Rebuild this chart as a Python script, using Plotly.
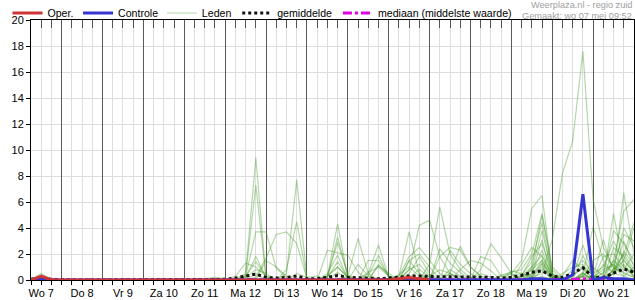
import pandas as pd
import plotly.graph_objects as go

# ---------------- data (6-hourly, Wo 7 06:00 .. Do 22 00:00) ----------------
start_time = "2025-05-07 06:00"
n_steps = 60
day_labels = ["Wo 7", "Do 8", "Vr 9", "Za 10", "Zo 11", "Ma 12", "Di 13", "Wo 14",
              "Do 15", "Vr 16", "Za 17", "Zo 18", "Ma 19", "Di 20", "Wo 21"]
y_ticks = [0, 2, 4, 6, 8, 10, 12, 14, 16, 18, 20]

Z4 = [0, 0, 0, 0]
# blocks: Wo7(06,12,18) Do8 Vr9 Za10 Zo11 Ma12 Di13 Wo14 Do15 Vr16 Za17 Zo18 Ma19 Di20 Wo21 Do22(00)
def row(w7, do8, vr9, za10, zo11, ma12, di13, wo14, do15, vr16, za17, zo18, ma19, di20, wo21, do22):
    return w7 + do8 + vr9 + za10 + zo11 + ma12 + di13 + wo14 + do15 + vr16 + za17 + zo18 + ma19 + di20 + wo21 + do22

oper = row([0, 0.3, 0], Z4, Z4, Z4, Z4, Z4, Z4, Z4, Z4, [0, 0.1, 0.2, 0.1],
           [0, None, None, None], [None]*4, [None]*4, [None]*4, [None]*4, [None])
controle = row([0, 0.1, 0], Z4, Z4, Z4, Z4, Z4, Z4, Z4, Z4, Z4, Z4, Z4,
               [0, 0, 0.1, 0.1], [0, 0, 0.4, 6.6], [0, 0.2, 0.1, 0.1], [0])
gemiddelde = row([0.05, 0.2, 0.05], Z4, Z4, Z4, [0, 0, 0.02, 0.05],
                 [0.05, 0.15, 0.3, 0.45], [0.2, 0.15, 0.2, 0.3], [0.1, 0.1, 0.2, 0.35],
                 [0.2, 0.15, 0.15, 0.1], [0.15, 0.25, 0.3, 0.3], [0.25, 0.25, 0.25, 0.25],
                 [0.2, 0.2, 0.2, 0.15], [0.2, 0.35, 0.6, 0.7], [0.3, 0.2, 0.5, 0.95],
                 [0.2, 0.2, 0.5, 0.85], [0.6])
mediaan = row([0, 0, 0], Z4, Z4, Z4, Z4, Z4, Z4, Z4, Z4, Z4, Z4, Z4, Z4,
              [0, 0, 0.03, 0.1], [0, 0, 0, 0], [0])

leden = [
    row([0, 0.1, 0], Z4, Z4, Z4, Z4, [0, 0.1, 0.5, 9.4], [0.1, 0, 0, 0], [0, 0, 0.3, 1.0], [0.2, 0, 0, 0],
        [0, 0, 0, 0.2], [0, 0, 0, 0.3], Z4, [0, 0, 0.5, 2.3], [0.2, 0, 0, 0.5], [0, 0, 0.8, 1.5], [0.5]),
    row([0, 0, 0], Z4, Z4, Z4, [0, 0, 0, 0.1], [0, 0, 0.4, 7.3], [0.1, 0, 0, 0], Z4, Z4,
        [0, 0, 1.5, 0.5], Z4, Z4, [0, 0, 0.2, 1.2], [0, 0, 0.3, 1.0], [0, 0.2, 0.5, 3.0], [1.0]),
    row([0, 0, 0], Z4, Z4, Z4, Z4, [0, 0, 0.3, 3.7], [3.7, 0.9, 0.2, 0], [0, 0, 0.2, 1.4], [0.2, 0, 0, 0],
        Z4, [0, 0, 0.5, 0.1], Z4, [0, 0.2, 0.8, 3.8], [0.5, 0, 0, 0.3], [1.0, 0.3, 5.1, 1.0], [0.3]),
    row([0, 0, 0], Z4, Z4, Z4, Z4, [0, 0, 0, 0.2], [1.7, 3.5, 3.7, 2.8], [0.1, 0, 0, 0], [0.3, 3.2, 0.5, 0],
        Z4, Z4, [0, 0.8, 2.8, 1.7], [0.5, 0, 0, 0.3], [0, 0, 0, 0.3], [0, 0, 0.5, 1.2], [0.3]),
    row([0, 0, 0], Z4, Z4, Z4, Z4, Z4, [0, 0, 0.5, 7.7], [0.1, 0, 0, 0], [0, 0, 0.5, 2.7],
        [0.2, 0, 0, 0], Z4, Z4, [0, 0.3, 1.0, 5.0], [0.8, 0, 0, 0], [0.3, 3.1, 0.5, 6.7], [2.0]),
    row([0, 0, 0], Z4, Z4, Z4, Z4, Z4, [0, 0, 0.8, 4.5], [0.1, 0, 0, 0], Z4,
        [0, 0.3, 3.7, 0.5], Z4, Z4, [0.5, 1.5, 5.5, 6.5], [0.4, 0, 0, 0], [0, 0.3, 1.5, 5.3], [6.2]),
    row([0, 0, 0], Z4, Z4, Z4, Z4, Z4, Z4, [0, 0, 0.3, 4.3], [0.2, 0, 0, 0],
        [0, 0, 0.8, 4.2], [4.6, 1.8, 0.5, 0], Z4, [0, 0, 0.3, 1.5], [0, 0, 0, 0.5], [0, 0, 0.8, 2.0], [4.4]),
    row([0, 0, 0], Z4, Z4, Z4, Z4, Z4, Z4, [0, 0, 0.2, 3.3], [0.3, 0, 0, 0],
        [0, 0.4, 1.0, 0.3], Z4, [0, 0.5, 0.2, 0], [0, 0.4, 1.4, 4.4], [0.3, 0, 0.2, 2.7], [0.3, 0, 0.5, 2.0], [0.8]),
    row([0, 0, 0], Z4, Z4, Z4, Z4, [0, 0, 0.2, 1.8], [0.2, 0, 0, 0], [0, 0, 0.3, 2.9], [0.4, 0, 0.3, 1.9],
        [0.2, 0, 0, 0], [0, 0, 0.5, 2.6], [1.0, 0.3, 0, 0], [0, 0, 0.5, 3.1], [0.2, 0, 0, 0.4], [4.1, 1.5, 0.5, 0.3], [1.0]),
    row([0, 0, 0], Z4, Z4, Z4, Z4, Z4, Z4, [0, 0, 2.3, 2.1], [1.9, 0.6, 0, 0],
        [0, 0, 0.5, 1.8], [0.5, 0, 2.3, 1.2], [0.5, 0, 0, 0], [0, 0, 1.0, 1.9], [0.3, 0, 0, 1.9], [0.2, 0, 2.5, 1.8], [0.6]),
    row([0, 0, 0], Z4, Z4, Z4, Z4, [0, 0, 0.3, 1.4], [0.3, 0, 0, 0], [0, 0, 0.5, 1.9], [0.1, 0, 0, 0],
        [0, 0, 0.2, 0.8], [0.2, 0, 0, 0], Z4, [0.3, 0.5, 0.2, 0.5], [3.1, 8.2, 10.7, 17.6], [6.2, 2.5, 1.0, 0.5], [0.2]),
    row([0, 0, 0], Z4, Z4, Z4, Z4, Z4, Z4, Z4, [0, 0, 0.6, 1.0],
        [0.3, 0, 0, 0], Z4, [0, 0, 0, 0.4], [0.6, 0.8, 2.0, 5.1], [1.0, 0.2, 0, 0], [0, 0.6, 1.2, 0.6], [0.2]),
    row([0, 0.2, 0], Z4, Z4, Z4, Z4, Z4, [1.5, 1.0, 0.3, 0], Z4, [0, 0, 1.5, 1.5],
        [0.3, 0, 0, 0], [0, 2.4, 1.3, 0.6], Z4, Z4, [0, 0, 0.8, 1.5], [0.5, 1.0, 3.0, 1.5], [0.6]),
    row([0, 0, 0], Z4, Z4, Z4, Z4, [0, 0.3, 1.3, 1.0], [0.3, 0, 0, 0], [0, 0, 0.3, 1.0], [0.2, 0, 0, 0],
        [0, 0, 1.5, 2.0], [1.0, 0, 0, 0], [0, 1.8, 1.5, 0.3], Z4, [0, 0.5, 1.0, 1.2], [0.3, 0, 0.8, 4.0], [2.5]),
    row([0, 0, 0], Z4, Z4, Z4, Z4, Z4, [0, 0, 0, 0.5], [0.2, 0.3, 0, 0], [0, 1.2, 0.3, 0],
        [0, 0.3, 1.8, 2.5], [1.5, 0.5, 0, 0], Z4, [0, 1.2, 2.5, 1.8], [0.3, 0, 0, 0.2], [1.5, 2.0, 1.0, 0.3], [0]),
    row([0, 0, 0], Z4, Z4, Z4, Z4, Z4, Z4, Z4, [0, 0, 0, 1.2],
        [0.3, 0, 0, 0], [0, 1.8, 2.5, 2.3], [1.0, 0.3, 0, 0], Z4, [0, 0.3, 1.5, 0.8], [0.2, 0.5, 3.8, 2.8], [1.5]),
    row([0, 0, 0], Z4, Z4, Z4, Z4, Z4, Z4, Z4, Z4,
        Z4, [0, 0, 0, 0.8], [1.5, 1.3, 0.7, 0], [0, 0.3, 1.8, 2.8], [0.5, 0, 0, 0.3], [0.2, 0.8, 1.2, 3.5], [3.0]),
    row([0, 0.5, 0], Z4, Z4, Z4, [0, 0, 0.1, 0.2], [0.1, 0, 0.2, 0.8], [0.5, 0, 0, 0], Z4, Z4,
        [0, 0, 0.8, 1.2], [0.3, 0, 0, 0], Z4, [0.7, 0.5, 0.3, 1.3], [0.2, 0, 0, 0.6], [0, 1.8, 2.0, 1.0], [0.3]),
    row([0, 0.3, 0], Z4, Z4, Z4, [0, 0, 0, 0.1], Z4, Z4, [0, 0, 0, 0.6], Z4,
        Z4, [0, 0, 0.8, 0.3], Z4, [0, 0, 0.2, 1.0], [0, 0, 0.4, 0.9], [0.4, 0, 0.5, 2.2], [1.2]),
    row([0, 0.2, 0], Z4, Z4, Z4, Z4, [0, 0, 0, 0.5], Z4, Z4, [0, 0, 0, 1.1],
        [0.5, 0, 0, 0], [0.3, 0.8, 0.5, 0], [0, 0, 0, 0.3], [0.5, 0, 0.8, 1.5], [0.2, 0, 0, 0], [0, 0, 1.5, 0.8], [2.0]),
    row([0, 0, 0], Z4, Z4, Z4, Z4, Z4, Z4, Z4, Z4,
        Z4, [1.2, 5.6, 2.0, 0.8], [0.2, 0, 0, 0], [0, 0, 0, 0.8], Z4, [0, 1.2, 0.5, 1.5], [4.0]),
]

# legend entry positions (paper x) for the five legend boxes
legend_x = {"legend": -0.039, "legend2": 0.078, "legend3": 0.217, "legend4": 0.342, "legend5": 0.509}

# ---------------- figure ----------------
times = pd.date_range(start_time, periods=n_steps, freq="6h")
days = pd.date_range("2025-05-07", periods=len(day_labels), freq="D")
noons = [d + pd.Timedelta(hours=12) for d in days]
midnights = list(days[1:])
x_range = [times[0], days[-1] + pd.Timedelta(days=1)]

FONT = "Liberation Sans, Arial, sans-serif"
fig = go.Figure()

for k, m in enumerate(leden):
    fig.add_trace(go.Scatter(
        x=times, y=m, mode="lines", name="Leden", legendgroup="leden", legend="legend3",
        showlegend=(k == 0),
        line=dict(color="rgba(60,150,30,0.38)", width=1.2), hoverinfo="skip"))

fig.add_trace(go.Scatter(x=times, y=mediaan, mode="lines", name="mediaan (middelste waarde)",
                         legend="legend5", line=dict(color="#e000e0", width=3, dash="dashdot")))
fig.add_trace(go.Scatter(x=times, y=gemiddelde, mode="lines", name="gemiddelde",
                         legend="legend4", line=dict(color="#111111", width=3, dash="dot")))
fig.add_trace(go.Scatter(x=times, y=controle, mode="lines", name="Controle",
                         legend="legend2", line=dict(color="#3535d0", width=3)))
fig.add_trace(go.Scatter(x=times, y=oper, mode="lines", name="Oper.",
                         legend="legend", line=dict(color="#d03535", width=3)))
# invisible carrier so the top (day-separator) axis gets drawn
fig.add_trace(go.Scatter(x=times, y=controle, xaxis="x2", mode="lines", opacity=0,
                         line=dict(width=0), showlegend=False, hoverinfo="skip"))

legend_common = dict(orientation="h", xanchor="left", y=1.027, yanchor="middle",
                     bgcolor="rgba(0,0,0,0)", font=dict(size=10.6, family=FONT), itemwidth=30)

fig.update_layout(
    width=635, height=300,
    margin=dict(l=31, r=1, t=20, b=20, autoexpand=False),
    paper_bgcolor="white", plot_bgcolor="white",
    font=dict(family=FONT, size=11, color="#000"),
    showlegend=True,
    legend=dict(x=legend_x["legend"], **legend_common),
    legend2=dict(x=legend_x["legend2"], **legend_common),
    legend3=dict(x=legend_x["legend3"], **legend_common),
    legend4=dict(x=legend_x["legend4"], **legend_common),
    legend5=dict(x=legend_x["legend5"], **legend_common),
    xaxis=dict(
        type="date", range=x_range, tickmode="array", tickvals=noons, ticktext=day_labels,
        ticks="outside", ticklen=4, tickcolor="#000", ticklabelstandoff=-1,
        showgrid=True, gridcolor="#dddddd", gridwidth=1,
        minor=dict(tickmode="linear", tick0="2025-05-07", dtick=21600000, ticks="outside",
                   ticklen=4, tickcolor="#000", showgrid=True, gridcolor="#dddddd"),
        showline=True, linecolor="#000", linewidth=1, mirror=True,
        zeroline=False, tickfont=dict(size=11)),
    xaxis2=dict(
        type="date", range=x_range, overlaying="x", side="top", anchor="y",
        tickmode="array", tickvals=midnights, showticklabels=False,
        ticks="inside", ticklen=8, tickcolor="#555",
        showgrid=True, gridcolor="#5a5a5a", gridwidth=1,
        minor=dict(tickmode="linear", tick0="2025-05-07", dtick=21600000, ticks="inside",
                   ticklen=8, tickcolor="#555", showgrid=False),
        showline=False, zeroline=False),
    yaxis=dict(
        range=[0, 20], tickmode="array", tickvals=y_ticks, ticks="outside", ticklen=4,
        tickcolor="#000", showgrid=True, gridcolor="#dddddd",
        showline=True, linecolor="#000", linewidth=1, mirror=True, zeroline=False,
        tickfont=dict(size=11)),
)

fig.add_annotation(text="Weerplaza.nl - regio zuid", xref="paper", yref="paper",
                   x=1.0, y=1.0, xanchor="right", yanchor="middle", yshift=15,
                   showarrow=False, font=dict(size=9.2, color="#a0a0a0", family=FONT))
fig.add_annotation(text="Gemaakt: wo 07 mei 09:52", xref="paper", yref="paper",
                   x=1.0, y=1.0, xanchor="right", yanchor="middle", yshift=4,
                   showarrow=False, font=dict(size=9.2, color="#a0a0a0", family=FONT))

fig.write_html("out.html")
